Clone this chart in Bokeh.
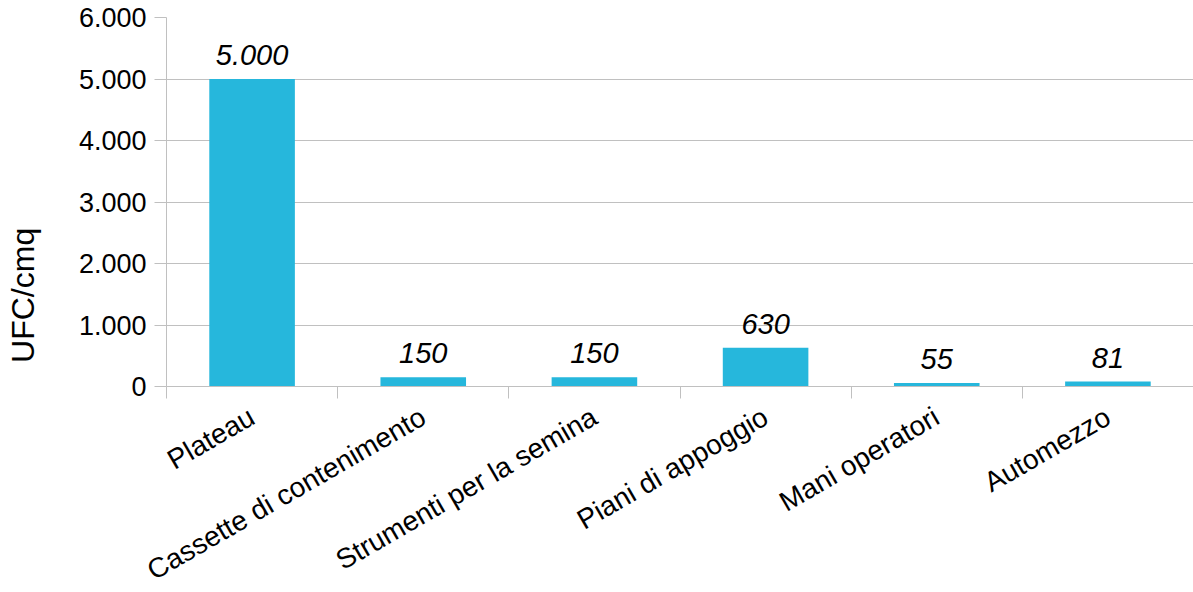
from bokeh.plotting import figure
from bokeh.models import (ColumnDataSource, Range1d, LinearAxis, FixedTicker, LabelSet,
                          CustomJSTickFormatter)
from bokeh.core.properties import value
from bokeh.embed import file_html
from bokeh.resources import INLINE
import math

# Surface contamination by sampled area
categories = ["Plateau", "Cassette di contenimento", "Strumenti per la semina",
              "Piani di appoggio", "Mani operatori", "Automezzo"]
values = [5000, 150, 150, 630, 55, 81]
y_ticks = [0, 1000, 2000, 3000, 4000, 5000, 6000]
y_title = "UFC/cmq"


def it_number(v):
    return f"{v:,}".replace(",", ".")


labels = [it_number(v) for v in values]
centers = [i + 0.5 for i in range(len(categories))]
edges = list(range(len(categories) + 1))

BAR = "#26B7DC"
GRID = "#C0C0C0"
FONT = "Liberation Sans"

source = ColumnDataSource(dict(x=centers, val=values, lab=labels))

p = figure(frame_width=1027, frame_height=369, output_backend="svg", toolbar_location=None,
           x_range=Range1d(0, len(categories)),
           y_range=Range1d(0, 6000),
           x_axis_location=None,
           min_border_left=166, min_border_right=0, min_border_top=17,
           min_border_bottom=0)
p.outline_line_color = None
p.background_fill_color = "white"
p.xgrid.grid_line_color = None
p.ygrid.grid_line_color = GRID
p.ygrid.grid_line_width = 1

p.vbar(x="x", top="val", width=0.5, source=source, color=BAR, line_color=None)

# value labels above each bar
p.add_layout(LabelSet(x="x", y="val", text="lab", source=source,
                      text_align="center", text_baseline="alphabetic", y_offset=14,
                      text_font=value(FONT), text_font_style="italic",
                      text_font_size="29px", text_color="#000000"))

# y axis
ya = p.yaxis[0]
ya.ticker = FixedTicker(ticks=y_ticks)
ya.formatter = CustomJSTickFormatter(
    code="return tick.toFixed(0).replace(/\\B(?=(\\d{3})+(?!\\d))/g, '.');")
ya.axis_line_color = GRID
ya.major_tick_line_color = GRID
ya.major_tick_out = 12
ya.major_tick_in = 0
ya.minor_tick_line_color = None
ya.major_label_standoff = 8
ya.major_label_text_font = FONT
ya.major_label_text_font_size = "27px"
ya.major_label_text_color = "#000000"
# trailing non-breaking spaces push the title down towards the middle of the page
ya.axis_label = y_title + "\u00a0" * 21
ya.axis_label_text_font = FONT
ya.axis_label_text_font_size = "32px"
ya.axis_label_text_font_style = "normal"
ya.axis_label_text_color = "#000000"
ya.axis_label_standoff = 35

# category names at bar centres, boundary ticks as minor ticks
cat_axis = LinearAxis(ticker=FixedTicker(ticks=centers, minor_ticks=edges),
                      major_label_overrides={c: n for c, n in zip(centers, categories)})
cat_axis.axis_line_color = GRID
cat_axis.major_tick_line_color = None
cat_axis.major_tick_out = 12
cat_axis.major_tick_in = 0
cat_axis.minor_tick_line_color = GRID
cat_axis.minor_tick_out = 12
cat_axis.minor_tick_in = 0
cat_axis.major_label_orientation = math.pi / 6
cat_axis.major_label_standoff = 16
cat_axis.major_label_text_font = FONT
cat_axis.major_label_text_font_size = "28px"
cat_axis.major_label_text_color = "#000000"
p.add_layout(cat_axis, "below")

open("out.html", "w").write(file_html(p, INLINE))
